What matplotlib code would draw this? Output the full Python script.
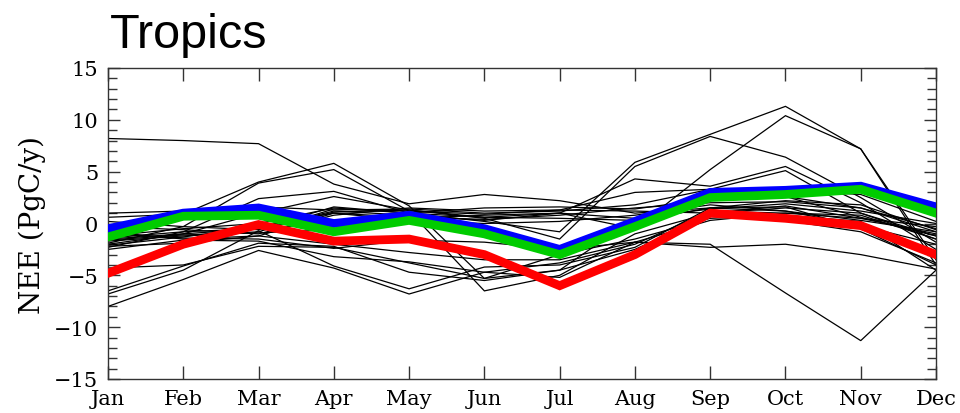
import matplotlib
matplotlib.use("Agg")
import matplotlib.pyplot as plt
from matplotlib.ticker import MultipleLocator

months = ["Jan", "Feb", "Mar", "Apr", "May", "Jun", "Jul", "Aug", "Sep", "Oct", "Nov", "Dec"]

# individual model estimates (black thin lines), PgC/y
models = [
    [8.2, 8.0, 7.7, 3.8, 1.9, 2.8, 2.2, 1.0, 1.5, 1.2, 0.3, -0.8],
    [1.0, 1.2, 1.6, 1.3, 1.4, 1.0, 1.2, 1.8, 3.3, 3.2, 2.8, 0.2],
    [0.6, 0.9, 4.0, 5.8, 1.7, -5.3, -4.5, 0.5, 3.0, 2.6, 1.5, -0.5],
    [-1.9, -0.3, 3.9, 5.2, 1.2, -6.5, -5.0, -1.0, 1.0, 1.5, 1.0, -1.2],
    [-2.3, -0.8, 2.4, 3.1, 1.0, 0.2, -0.8, 5.9, 8.6, 11.3, 7.2, -3.5],
    [-2.0, -1.0, 1.0, 2.6, 1.3, 0.5, -1.5, 5.5, 8.4, 6.4, 2.5, -1.8],
    [-1.2, -0.5, 0.0, 1.5, 1.0, 0.6, 1.0, -0.5, 5.2, 10.4, 7.2, -4.0],
    [-1.5, -1.0, -0.5, 1.2, 0.8, 0.3, 1.0, 4.3, 3.6, 5.5, 2.0, -2.5],
    [-1.7, -1.2, -0.8, 1.4, 1.2, 0.9, 1.3, 3.0, 3.3, 5.1, 1.0, -1.5],
    [-2.1, -1.3, -0.3, 1.0, 0.6, 0.4, 0.8, 1.5, 2.0, 2.1, 1.5, -0.8],
    [-0.3, -0.6, -1.0, 0.8, 1.5, 1.2, 1.3, 1.2, 1.0, 1.7, 0.5, -1.0],
    [-0.8, -1.5, -1.2, -2.0, -2.8, -3.5, -3.5, -1.8, 0.3, 1.0, 0.5, -0.3],
    [0.2, -0.3, -0.6, 1.1, 1.3, 0.6, 0.5, 0.3, 1.5, 2.2, 1.8, -0.6],
    [-2.5, -1.6, -1.7, -3.2, -3.7, -4.7, -3.8, -2.0, 1.2, 1.0, 0.8, -1.5],
    [-4.3, -4.0, -2.2, -2.3, -3.8, -5.3, -3.0, -1.5, 0.5, 0.8, 0.2, -4.5],
    [-6.5, -4.1, -1.9, -2.2, -4.7, -5.5, -4.5, -2.5, 0.8, 0.3, -0.8, -3.8],
    [-6.8, -4.5, -0.7, -4.1, -6.3, -4.2, -4.0, -2.3, 1.5, 1.6, -0.5, -4.0],
    [-8.0, -5.4, -2.6, -4.3, -6.8, -4.7, -5.2, -1.8, -2.0, -6.7, -11.3, -4.5],
    [-1.0, -1.4, -1.5, -2.4, -1.6, -1.8, -2.5, -1.8, -2.3, -2.0, -3.0, -4.4],
    [-1.4, -0.8, -0.5, 1.6, 1.0, 1.5, 1.6, 1.4, 2.4, 2.6, 0.6, -1.2],
    [-2.2, -1.9, -1.2, 1.0, 0.3, 0.0, 0.2, 0.8, 1.8, 1.2, -0.2, -2.0],
    [-1.6, -1.1, -0.9, -0.6, 0.5, 0.8, 1.0, 0.5, 1.4, 1.9, 1.2, 0.0],
]

blue = [-0.5, 1.0, 1.5, 0.0, 0.8, -0.5, -2.5, 0.2, 3.0, 3.2, 3.6, 1.6]
green = [-1.3, 0.7, 0.8, -0.8, 0.3, -1.0, -3.0, -0.3, 2.5, 2.8, 3.3, 1.0]
red = [-4.8, -2.0, -0.1, -1.7, -1.5, -3.0, -6.0, -3.0, 1.0, 0.5, -0.2, -3.0]

yticks = [-15, -10, -5, 0, 5, 10, 15]
ytick_labels = ["\u221215", "\u221210", "\u22125", "0", "5", "10", "15"]

fig = plt.figure(figsize=(9.6, 4.14), dpi=100)
ax = fig.add_axes([108/960, 1 - 380/414, (936-108)/960, (380-69)/414])

x = list(range(len(months)))
for m in models:
    ax.plot(x, m, color="black", lw=0.9, solid_joinstyle="miter")
ax.plot(x, blue, color="#0000ff", lw=6.3, solid_joinstyle="miter", zorder=3)
ax.plot(x, green, color="#00cc00", lw=6.3, solid_joinstyle="miter", zorder=3)
ax.plot(x, red, color="#ff0000", lw=6.3, solid_joinstyle="miter", zorder=3)

ax.set_xlim(0, 11)
ax.set_ylim(-15, 15)
ax.set_xticks(x)
ax.set_xticklabels(months, fontfamily="DejaVu Serif", fontsize=15)
ax.set_yticks(yticks)
ax.set_yticklabels(ytick_labels, fontfamily="DejaVu Serif", fontsize=15)
ax.yaxis.set_minor_locator(MultipleLocator(1))
ax.tick_params(axis="both", which="both", direction="in", top=True, right=True,
               colors="#333333", labelcolor="black", width=1.0)
ax.tick_params(axis="x", which="major", length=9.5, pad=7)
ax.tick_params(axis="y", which="major", length=8.6, pad=7)
ax.tick_params(axis="y", which="minor", length=6.5)
ax.tick_params(axis="x", which="minor", bottom=False, top=False)
for s in ax.spines.values():
    s.set_linewidth(1.0)
    s.set_color("#333333")

ax.set_ylabel("NEE (PgC/y)", fontfamily="DejaVu Serif", fontsize=20, labelpad=6)
fig.text(110/960, 1 - 48/414, "Tropics", fontfamily="Liberation Sans", fontsize=35,
         va="baseline", ha="left")

fig.savefig("out.png", dpi=100)
